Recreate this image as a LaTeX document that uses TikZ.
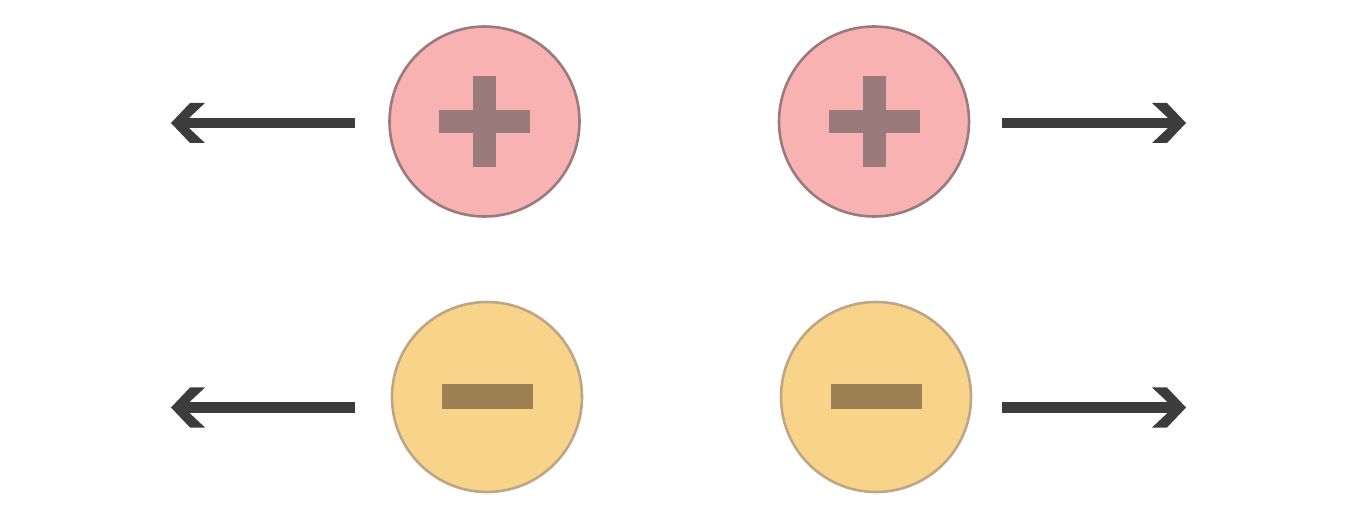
\documentclass[tikz,border=0pt]{standalone}
\usetikzlibrary{calc}
\definecolor{pinkfill}{HTML}{F8B2B2}
\definecolor{pinkedge}{HTML}{9A7A7C}
\definecolor{pinksign}{HTML}{9B7A7B}
\definecolor{yelfill}{HTML}{F8D48A}
\definecolor{yeledge}{HTML}{C0A585}
\definecolor{yelsign}{HTML}{9E8055}
\definecolor{arrowcol}{HTML}{3C3C3C}
\tikzset{
  poscharge/.style={circle, draw=pinkedge, fill=pinkfill, line width=2.6pt, minimum size=190pt, inner sep=0pt},
  negcharge/.style={circle, draw=yeledge, fill=yelfill, line width=2.6pt, minimum size=190pt, inner sep=0pt},
  shaft/.style={draw=arrowcol, line width=10pt},
  head/.style={fill=arrowcol},
  psign/.style={fill=pinksign},
  nsign/.style={fill=yelsign}
}
\begin{document}
\begin{tikzpicture}[x=1pt,y=-1pt]
\useasboundingbox (0,0) rectangle (1360,518);
% charges
\node[poscharge] (p1) at (484.5,121.5) {};
\node[poscharge] (p2) at (874,121.5) {};
\node[negcharge] (n1) at (487,397) {};
\node[negcharge] (n2) at (876,397) {};
% plus signs
\foreach \c in {p1,p2}{
  \fill[psign] ($(\c)+(-45.5,-11)$) rectangle ($(\c)+(45.5,11.5)$);
  \fill[psign] ($(\c)+(-11.5,-45)$) rectangle ($(\c)+(11.5,45.5)$);
}
% minus signs
\foreach \c in {n1,n2}{
  \fill[nsign] ($(\c)+(-45.5,-13)$) rectangle ($(\c)+(45.5,12)$);
}
% arrow endpoints
\coordinate (s1) at (355,123);
\coordinate (t1) at (171,123);
\coordinate (s2) at (1002,123);
\coordinate (t2) at (1186,123);
\coordinate (s3) at (355,407.5);
\coordinate (t3) at (171,407.5);
\coordinate (s4) at (1002,407.5);
\coordinate (t4) at (1186,407.5);
% left arrows
\foreach \s/\t in {s1/t1,s3/t3}{
  \draw[shaft] (\s) -- ($(\t)+(18,0)$);
  \fill[head] (\t) -- ++(19,-20) -- ++(15,0) -- ++(-16,15) -- ++(0,10) -- ++(16,15) -- ++(-15,0) -- cycle;
}
% right arrows
\foreach \s/\t in {s2/t2,s4/t4}{
  \draw[shaft] (\s) -- ($(\t)+(-18,0)$);
  \fill[head] (\t) -- ++(-19,-20) -- ++(-15,0) -- ++(16,15) -- ++(0,10) -- ++(-16,15) -- ++(15,0) -- cycle;
}
\end{tikzpicture}
\end{document}
